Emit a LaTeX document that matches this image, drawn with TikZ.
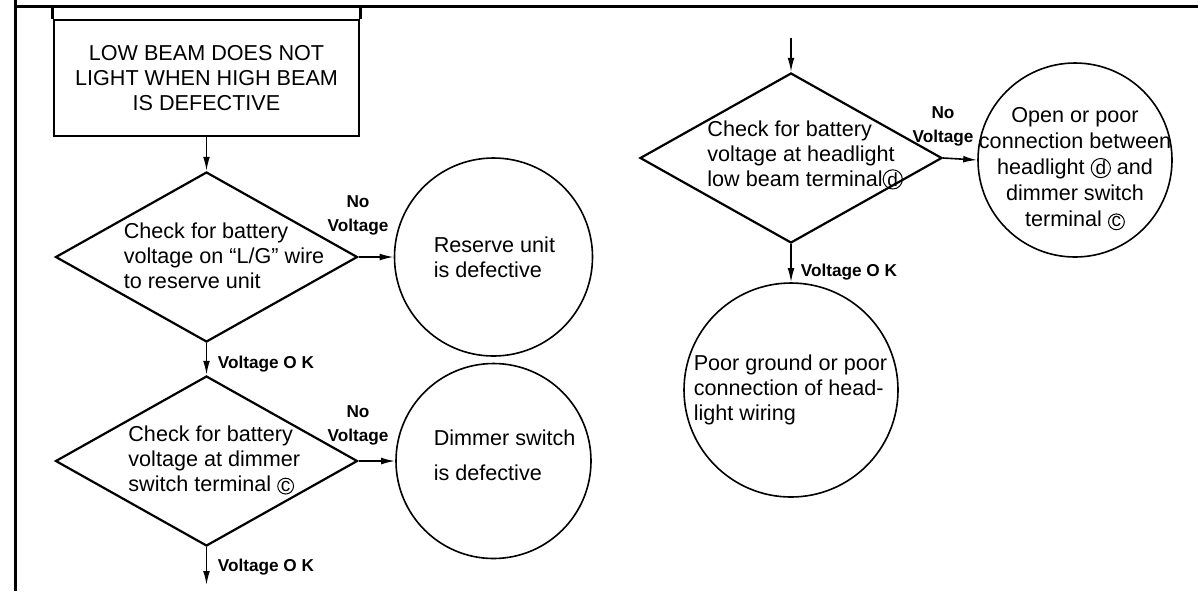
\documentclass[tikz,border=0pt]{standalone}
\usepackage{fontspec}
\setmainfont{Liberation Sans}
\usetikzlibrary{positioning,calc,arrows.meta,shapes.geometric}
\newcommand{\circmark}[1]{\tikz[baseline=(m.base)]\node[draw,circle,inner sep=0.3pt,line width=0.5pt,font=\fontsize{9.5}{9.5}\selectfont](m){#1};}
\def\termc{\circmark{c}}
\def\termd{\circmark{d}}
\tikzset{chk/.style={draw,diamond,minimum width=151pt,minimum height=85pt,inner sep=0pt,line width=1.1pt}  }
\tikzset{res/.style={draw,circle,inner sep=0pt,line width=0.8pt}  }
\tikzset{txt/.style={align=left,inner sep=0pt,font=\fontsize{10.8}{12.5}\selectfont}  }
\tikzset{lbl/.style={align=center,inner sep=0pt,font=\bfseries\fontsize{8.6}{12}\selectfont}  }
\tikzset{>={Latex[length=7pt,width=3.4pt]}}

\begin{document}
\begin{tikzpicture}[x=0.5pt,y=-0.5pt,line width=0.8pt]
	\useasboundingbox (0,0) rectangle (1198,591);
	% frame
	\coordinate (ftop) at (14,6);
	\coordinate (fright) at (1198,6);
	\coordinate (fcorner) at (15,0);
	\coordinate (fbot) at (15,591);
	\draw[line width=1.5pt] (ftop) -- (fright);
	\draw[line width=1.5pt] (fcorner) -- (fbot);

	\node[draw,line width=1.3pt,minimum width=152.5pt,minimum height=58pt,inner sep=0pt,align=center,font=\fontsize{10.8}{12.5}\selectfont] (title) at (206.5,78) {LOW BEAM DOES NOT\\LIGHT WHEN HIGH BEAM\\IS DEFECTIVE};
	\draw[line width=1.3pt] (title.north west) -- (title.north west |- ftop);
	\draw[line width=1.3pt] (title.north east) -- (title.north east |- ftop);

	% left column
	\node[chk] (d1) at (206.5,257) {};
	\node[txt,anchor=west] (t1) at (123,256) {Check for battery\\voltage on ``L/G'' wire\\to reserve unit};
	\node[res,minimum size=99pt] (c1) at (493.5,257) {};
	\node[txt,anchor=west] (r1) at (433,257.5) {Reserve unit\\is defective};
	\node[lbl] (nv1) at (358,215) {No\\Voltage};
	\draw[->] (d1.east) -- (c1.west);

	\node[chk] (d2) at (206.5,461) {};
	\node[txt,anchor=west] (t2) at (128,460) {Check for battery\\voltage at dimmer\\switch terminal \termc};
	\node[res,minimum size=97.5pt] (c2) at (493.5,461) {};
	\node[txt,anchor=west] (r2) at (433,455.5) {Dimmer switch\\[5pt]is defective};
	\node[lbl] (nv2) at (358,425) {No\\Voltage};
	\draw[->] (d2.east) -- (c2.west);

	\draw[->] (title.south) -- (d1.north);
	\draw[->] (d1.south) -- (d2.north);
	\node[lbl,anchor=west] (ok1) at (217,364) {Voltage O K};
	\coordinate (end2) at (206.5,585);
	\draw[->] (d2.south) -- (end2);
	\node[lbl,anchor=west] (ok2) at (217,567) {Voltage O K};

	% right column
	\coordinate (in3) at (791,38);
	\node[chk] (d3) at (791,158) {};
	\node[txt,anchor=west] (t3) at (707,155) {Check for battery\\voltage at headlight\\low beam terminal\termd};
	\draw[->] (in3) -- (d3.north);
	\node[res,minimum size=97pt] (c3) at (1075,160) {};
	\node[txt,align=center,font=\fontsize{10.8}{13}\selectfont] (r3) at (1075,169) {Open or poor\\connection between\\headlight \termd{} and\\dimmer switch\\terminal \termc};
	\node[lbl] (nv3) at (943,126) {No\\Voltage};
	\draw[->] (d3.east) -- (c3.west);

	\node[res,minimum size=107pt] (c4) at (791,390) {};
	\node[txt,anchor=west] (r4) at (693,390) {Poor ground or poor\\connection of head-\\light wiring};
	\draw[->] (d3.south) -- (c4.north);
	\node[lbl,anchor=west] (ok3) at (800,272) {Voltage O K};
\end{tikzpicture}
\end{document}
